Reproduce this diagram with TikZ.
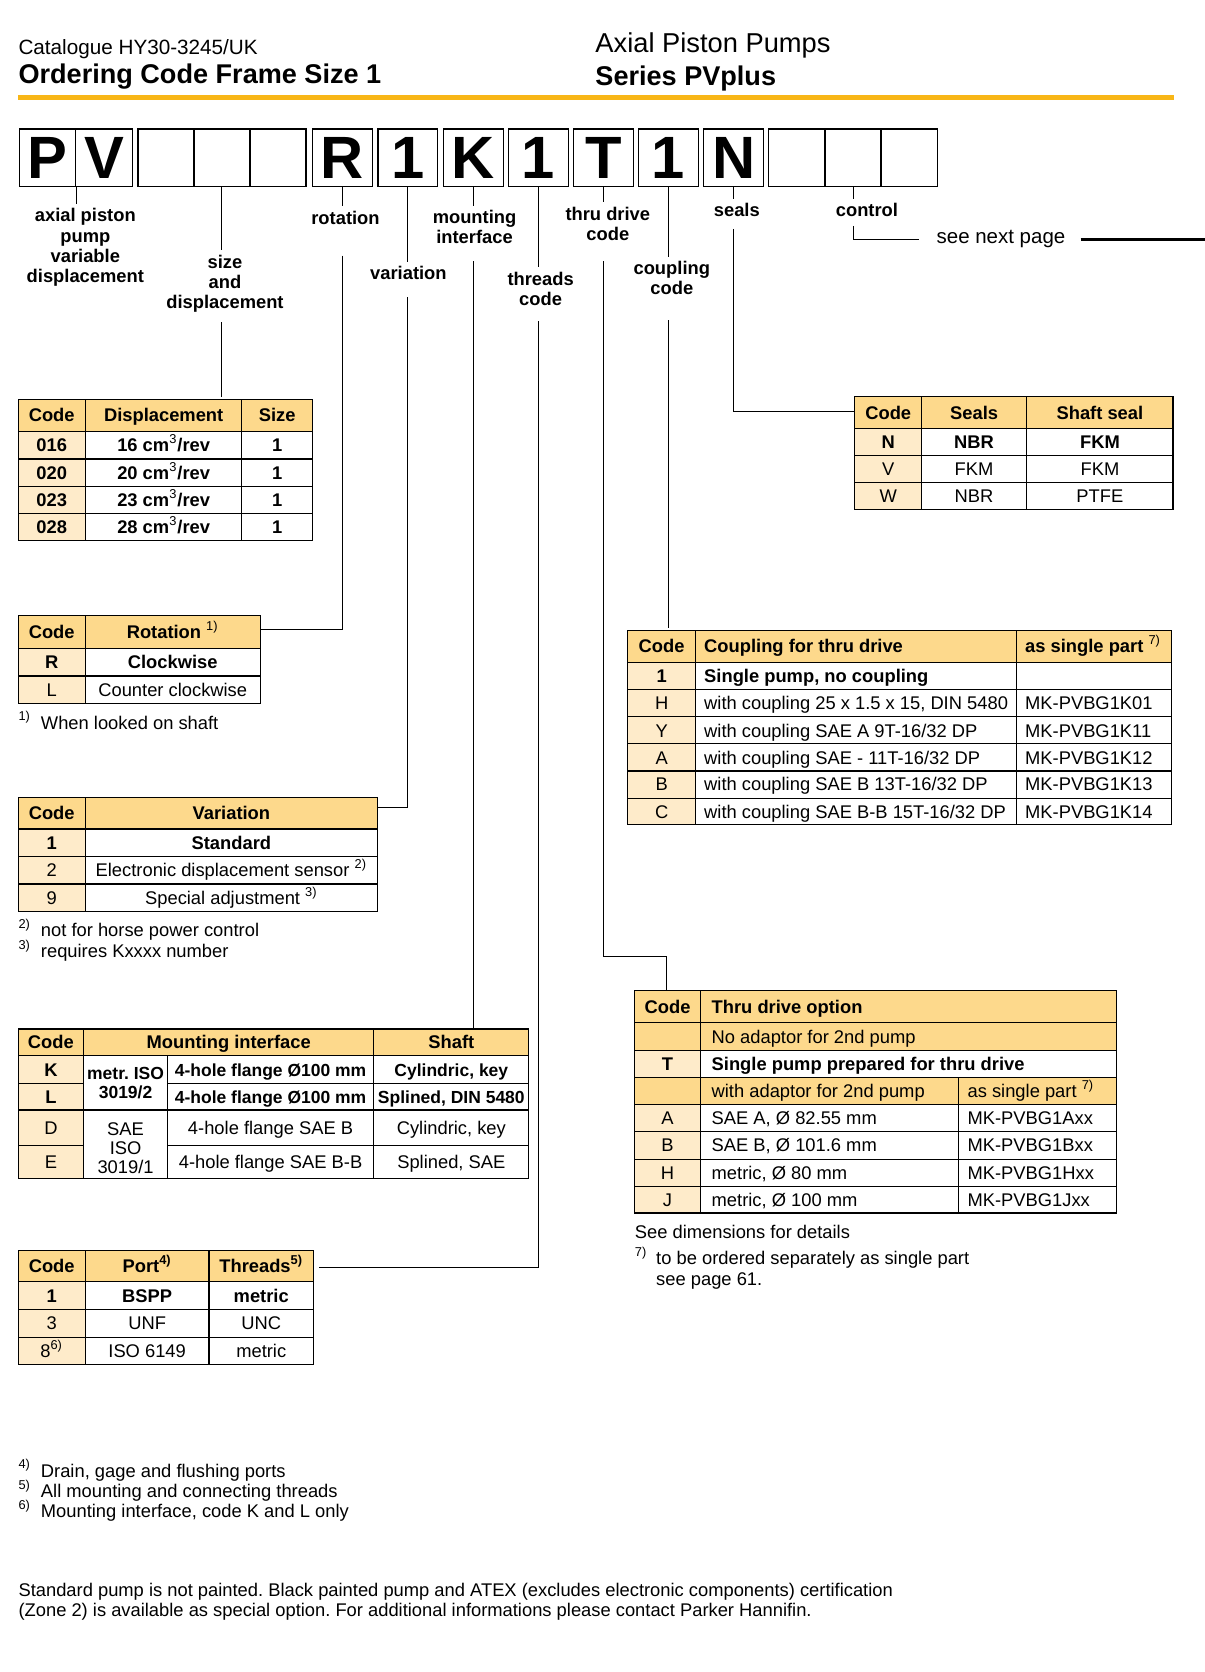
\documentclass[tikz,border=0pt]{standalone}
\usepackage{fontspec}
\setmainfont{Liberation Sans}
\usetikzlibrary{calc}

\definecolor{parkergold}{RGB}{248,182,22}
\definecolor{headfill}{RGB}{253,217,140}
\definecolor{codefill}{RGB}{254,235,202}

\newcommand{\tabfont}{\fontsize{8.6}{10.3}\selectfont}
\newcommand{\fnmark}[1]{\textsuperscript{\normalfont #1)}}
\frenchspacing

\begin{document}
\begin{tikzpicture}[x=0.5pt, y=-0.5pt,
  grid/.style={line width=0.55pt},
  lead/.style={line width=0.45pt},
  cell/.style={inner sep=0pt, text height=6.2pt, text depth=0pt, font=\tabfont},
  bcell/.style={cell, font=\tabfont\bfseries},
  tcell/.style={cell, font=\fontsize{8.2}{10}\selectfont\bfseries},
  lcell/.style={cell, anchor=west},
  blcell/.style={bcell, anchor=west},
  mcell/.style={inner sep=0pt, align=center, font=\fontsize{8.6}{9}\selectfont},
  note/.style={cell, anchor=west},
  codebox/.style={draw, line width=0.6pt, minimum height=27pt, inner sep=0pt,
    font=\fontsize{28}{28}\selectfont\bfseries},
  tag/.style={align=center, inner sep=2pt, font=\fontsize{8.6}{9.5}\selectfont\bfseries}]
\useasboundingbox (0,0) rectangle (1130,1568);

% page head
\node[anchor=west, inner sep=0pt, text height=6.9pt, text depth=0pt,
  font=\fontsize{9.7}{11}\selectfont] (catalogue) at (17,44) {Catalogue HY30-3245/UK};
\node[anchor=west, inner sep=0pt, text height=9.1pt, text depth=0pt,
  font=\fontsize{12.7}{14}\selectfont\bfseries] (heading) at (17,69) {Ordering Code Frame Size 1};
\node[anchor=west, inner sep=0pt, text height=9.1pt, text depth=0pt,
  font=\fontsize{12.8}{14}\selectfont] (product) at (558,40) {Axial Piston Pumps};
\node[anchor=west, inner sep=0pt, text height=9.1pt, text depth=0pt,
  font=\fontsize{12.7}{14}\selectfont\bfseries] (series) at (558,71) {Series PVplus};
\fill[parkergold] (17,89) rectangle (1101,94);

% ordering code
\node[codebox, minimum width=26.5pt] (cP) at (44.5,148) {P};
\node[codebox, minimum width=26.5pt] (cV) at (97.5,148) {V};
\foreach \n/\x in {S1/156,S2/208,S3/260.5}
  \node[codebox, minimum width=26.5pt] (c\n) at (\x,148) {};
\foreach \n/\x/\t in {R/321/R,Var/382.5/1,K/444/K,Thr/505/1,T/566/T,Cpl/627/1,N/688/N}
  \node[codebox, minimum width=28pt] (c\n) at (\x,148) {\t};
\foreach \n/\x in {C1/747.5,C2/800,C3/852.5}
  \node[codebox, minimum width=26.5pt] (c\n) at (\x,148) {};

\node[tag] (lAxial) at (80,232) {axial piston\\pump\\variable\\displacement};
\node[tag] (lSize) at (211,266) {size\\and\\displacement};
\node[tag] (lRot) at (324,204) {rotation};
\node[tag] (lVar) at (383,256) {variation};
\node[tag] (lMount) at (445,213) {mounting\\interface};
\node[tag] (lThr) at (507,271) {threads\\code};
\node[tag] (lThru) at (570,210) {thru drive\\code};
\node[tag] (lCpl) at (630,261) {coupling\\code};
\node[tag] (lSeal) at (691,197) {seals};
\node[tag] (lCtrl) at (813,197) {control};
\node[anchor=west, inner sep=2pt, font=\fontsize{9.6}{11}\selectfont] (lNext) at (874,224.5) {see next page};

\coordinate (dispTop) at (208,372);
\coordinate (rotEnd) at (244.5,590);
\coordinate (varEnd) at (354,757);
\coordinate (mountTop) at (444,965);
\coordinate (thrEnd) at (299,1189);
\coordinate (thruBend) at (625,897);
\coordinate (thruTop) at (625,929);
\coordinate (cplTop) at (627,589);
\coordinate (sealEnd) at (801.5,386);
\coordinate (nextEnd) at (1130,224.5);

\draw[lead] (cP.south east) -- (cP.south east |- lAxial.north);
\draw[lead] (cS2.south) -- (cS2.south |- lSize.north);
\draw[lead] (cS2.south |- lSize.south) ++(0,5) -- (dispTop);
\draw[lead] (cR.south) -- (cR.south |- lRot.north);
\draw[lead] (cR.south |- lRot.south) ++(0,25) |- (rotEnd);
\draw[lead] (cVar.south) -- (cVar.south |- lVar.north);
\draw[lead] (cVar.south |- lVar.south) ++(0,12) |- (varEnd);
\draw[lead] (cK.south) -- (cK.south |- lMount.north);
\draw[lead] (cK.south |- lMount.south) ++(0,12) -- (mountTop);
\draw[lead] (cThr.south) -- (cThr.south |- lThr.north);
\draw[lead] (cThr.south |- lThr.south) ++(0,10) |- (thrEnd);
\draw[lead] (cT.south) -- (cT.south |- lThru.north);
\draw[lead] (cT.south |- lThru.south) ++(0,15) |- (thruBend) -- (thruTop);
\draw[lead] (cCpl.south) -- (cCpl.south |- lCpl.north);
\draw[lead] (cCpl.south |- lCpl.south) ++(0,19) -- (cplTop);
\draw[lead] (cN.south) -- (cN.south |- lSeal.north);
\draw[lead] (cN.south |- lSeal.south) ++(0,7) |- (sealEnd);
\draw[lead] (cC2.south) -- (cC2.south |- lCtrl.north);
\draw[lead] (cC2.south |- lCtrl.south) ++(0,4) |- ([xshift=-6pt]lNext.west);
\draw[line width=1.6pt] ([xshift=5pt]lNext.east) -- (lNext.east -| nextEnd);

% size and displacement
\fill[headfill] (17,374.5) rectangle (293,404.5);
\fill[codefill] (17,404.5) rectangle (80,506.5);
\draw[grid] (17,374.5) rectangle (293,506.5);
\foreach \y in {404.5,430.5,456.5,481.5} \draw[grid] (17,\y) -- (293,\y);
\foreach \x in {80,226.5} \draw[grid] (\x,374.5) -- (\x,506.5);
\node[bcell] (dH1) at (48.5,389.5) {Code};
\node[bcell] (dH2) at (153.5,389.5) {Displacement};
\node[bcell] (dH3) at (260,389.5) {Size};
\foreach \cd/\v/\y in {016/16/417.5,020/20/443.5,023/23/469,028/28/494}{
  \node[bcell] (dC\cd) at (48.5,\y) {\cd};
  \node[bcell] (dD\cd) at (153.5,\y) {\v~cm\textsuperscript{\normalfont 3}/rev};
  \node[bcell] (dS\cd) at (260,\y) {1};
}

% seals
\fill[headfill] (801.5,372) rectangle (1100,401.5);
\fill[codefill] (801.5,401.5) rectangle (864.5,478);
\draw[grid] (801.5,372) rectangle (1100,478);
\foreach \y in {401.5,427.5,452.5} \draw[grid] (801.5,\y) -- (1100,\y);
\foreach \x in {864.5,963} \draw[grid] (\x,372) -- (\x,478);
\node[bcell] (sH1) at (833,387) {Code};
\node[bcell] (sH2) at (913.5,387) {Seals};
\node[bcell] (sH3) at (1031.5,387) {Shaft seal};
\node[bcell] (sCN) at (833,414.5) {N};
\node[bcell] (sSN) at (913.5,414.5) {NBR};
\node[bcell] (sTN) at (1031.5,414.5) {FKM};
\foreach \cd/\s/\t/\y in {V/FKM/FKM/440,W/NBR/PTFE/465.5}{
  \node[cell] (sC\cd) at (833,\y) {\cd};
  \node[cell] (sS\cd) at (913.5,\y) {\s};
  \node[cell] (sT\cd) at (1031.5,\y) {\t};
}

% rotation
\fill[headfill] (17,577.5) rectangle (244.5,608.5);
\fill[codefill] (17,608.5) rectangle (80,659.5);
\draw[grid] (17,577.5) rectangle (244.5,659.5);
\foreach \y in {608.5,634} \draw[grid] (17,\y) -- (244.5,\y);
\draw[grid] (80,577.5) -- (80,659.5);
\node[bcell] (rH1) at (48.5,593) {Code};
\node[bcell] (rH2) at (162,593) {Rotation \fnmark{1}};
\node[bcell] (rCR) at (48.5,621) {R};
\node[bcell] (rTR) at (162,621) {Clockwise};
\node[cell] (rCL) at (48.5,647) {L};
\node[cell] (rTL) at (162,647) {Counter clockwise};
\node[note] (fn1) at (17,677.5) {\makebox[10.5pt][l]{\fnmark{1}}When looked on shaft};

% variation
\fill[headfill] (17,747.5) rectangle (354,777.5);
\fill[codefill] (17,777.5) rectangle (80,855);
\draw[grid] (17,747.5) rectangle (354,855);
\foreach \y in {777.5,803.5,829} \draw[grid] (17,\y) -- (354,\y);
\draw[grid] (80,747.5) -- (80,855);
\node[bcell] (vH1) at (48.5,762.5) {Code};
\node[bcell] (vH2) at (217,762.5) {Variation};
\node[bcell] (vC1) at (48.5,790.5) {1};
\node[bcell] (vT1) at (217,790.5) {Standard};
\node[cell] (vC2) at (48.5,816) {2};
\node[cell] (vT2) at (217,816) {Electronic displacement sensor \fnmark{2}};
\node[cell] (vC9) at (48.5,842) {9};
\node[cell] (vT9) at (217,842) {Special adjustment \fnmark{3}};
\node[note] (fn2) at (17,872) {\makebox[10.5pt][l]{\fnmark{2}}not for horse power control};
\node[note] (fn3) at (17,891.5) {\makebox[10.5pt][l]{\fnmark{3}}requires Kxxxx number};

% coupling
\fill[headfill] (588.5,591) rectangle (1099,621);
\fill[codefill] (588.5,621) rectangle (652.5,773.5);
\draw[grid] (588.5,591) rectangle (1099,773.5);
\foreach \y in {621,646.5,672,697.5,723,748.5} \draw[grid] (588.5,\y) -- (1099,\y);
\foreach \x in {652.5,953} \draw[grid] (\x,591) -- (\x,773.5);
\node[bcell] (kH1) at (620.5,606) {Code};
\node[blcell] (kH2) at (660,606) {Coupling for thru drive};
\node[blcell] (kH3) at (961,606) {as single part \fnmark{7}};
\node[bcell] (kC1) at (620.5,634) {1};
\node[blcell] (kT1) at (660,634) {Single pump, no coupling};
\foreach \cd/\t/\p/\y in {H/{with coupling 25 x 1.5 x 15, DIN 5480}/MK-PVBG1K01/659.5,
    Y/{with coupling SAE A 9T-16/32 DP}/MK-PVBG1K11/685,
    A/{with coupling SAE - 11T-16/32 DP}/MK-PVBG1K12/710.5,
    B/{with coupling SAE B 13T-16/32 DP}/MK-PVBG1K13/735.5,
    C/{with coupling SAE B-B 15T-16/32 DP}/MK-PVBG1K14/761}{
  \node[cell] (kC\cd) at (620.5,\y) {\cd};
  \node[lcell] (kT\cd) at (660,\y) {\t};
  \node[lcell] (kP\cd) at (961,\y) {\p};
}

% thru drive
\fill[headfill] (595,929) rectangle (1047,985);
\fill[headfill] (595,1010.5) rectangle (1047,1036);
\fill[codefill] (595,985) rectangle (657,1010.5);
\fill[codefill] (595,1036) rectangle (657,1137.5);
\draw[grid] (595,929) rectangle (1047,1137.5);
\foreach \y in {959,985,1010.5,1036,1061,1087,1112.5} \draw[grid] (595,\y) -- (1047,\y);
\draw[grid] (657,929) -- (657,1137.5);
\draw[grid] (899,1010.5) -- (899,1137.5);
\node[bcell] (tH1) at (626,944) {Code};
\node[blcell] (tH2) at (667,944) {Thru drive option};
\node[lcell] (tNo) at (667,972) {No adaptor for 2nd pump};
\node[bcell] (tCT) at (626,998) {T};
\node[blcell] (tTT) at (667,998) {Single pump prepared for thru drive};
\node[lcell] (tW2) at (667,1023) {with adaptor for 2nd pump};
\node[lcell] (tW3) at (907,1023) {as single part \fnmark{7}};
\foreach \cd/\t/\p/\y in {A/{SAE A, Ø 82.55 mm}/MK-PVBG1Axx/1048.5,
    B/{SAE B, Ø 101.6 mm}/MK-PVBG1Bxx/1074,
    H/{metric, Ø 80 mm}/MK-PVBG1Hxx/1099.5,
    J/{metric, Ø 100 mm}/MK-PVBG1Jxx/1125}{
  \node[cell] (tC\cd) at (626,\y) {\cd};
  \node[lcell] (tT\cd) at (667,\y) {\t};
  \node[lcell] (tP\cd) at (907,\y) {\p};
}
\node[note] (tDim) at (595,1155) {See dimensions for details};
\node[note] (fn7) at (595,1180) {\makebox[10pt][l]{\fnmark{7}}to be ordered separately as single part};
\node[note] (fn7b) at (615,1199.5) {see page 61.};

% mounting interface
\fill[headfill] (17,965) rectangle (496,990);
\fill[codefill] (17,990) rectangle (78.5,1105);
\draw[grid] (17,965) rectangle (496,1105);
\draw[grid] (17,990) -- (496,990);
\draw[grid] (17,1041) -- (496,1041);
\foreach \y in {1016,1074} {
  \draw[grid] (17,\y) -- (78.5,\y);
  \draw[grid] (157,\y) -- (496,\y);
}
\draw[grid] (78.5,965) -- (78.5,1105);
\draw[grid] (157,990) -- (157,1105);
\draw[grid] (350.5,965) -- (350.5,1105);
\node[bcell] (mH1) at (47.75,977.5) {Code};
\node[bcell] (mH2) at (214.5,977.5) {Mounting interface};
\node[bcell] (mH3) at (423.25,977.5) {Shaft};
\node[mcell, font=\fontsize{8.2}{9}\selectfont\bfseries] (mISO2) at (117.75,1016) {metr. ISO\\3019/2};
\node[mcell] (mISO1) at (117.75,1076.5) {SAE\\ISO\\3019/1};
\node[bcell] (mCK) at (47.75,1003) {K};
\node[tcell] (mFK) at (253.75,1003) {4-hole flange Ø100 mm};
\node[tcell] (mSK) at (423.25,1003) {Cylindric, key};
\node[bcell] (mCL) at (47.75,1028.5) {L};
\node[tcell] (mFL) at (253.75,1028.5) {4-hole flange Ø100 mm};
\node[tcell] (mSL) at (423.25,1028.5) {Splined, DIN 5480};
\node[cell] (mCD) at (47.75,1057.5) {D};
\node[cell] (mFD) at (253.75,1057.5) {4-hole flange SAE B};
\node[cell] (mSD) at (423.25,1057.5) {Cylindric, key};
\node[cell] (mCE) at (47.75,1089.5) {E};
\node[cell] (mFE) at (253.75,1089.5) {4-hole flange SAE B-B};
\node[cell] (mSE) at (423.25,1089.5) {Splined, SAE};

% port and threads
\fill[headfill] (17,1173) rectangle (294,1202);
\fill[codefill] (17,1202) rectangle (80,1279.5);
\draw[grid] (17,1173) rectangle (294,1279.5);
\foreach \y in {1202,1228,1254} \draw[grid] (17,\y) -- (294,\y);
\foreach \x in {80,196} \draw[grid] (\x,1173) -- (\x,1279.5);
\node[bcell] (pH1) at (48.5,1187.5) {Code};
\node[bcell] (pH2) at (138,1187.5) {Port\textsuperscript{4)}};
\node[bcell] (pH3) at (245,1187.5) {Threads\textsuperscript{5)}};
\node[bcell] (pC1) at (48.5,1215) {1};
\node[bcell] (pP1) at (138,1215) {BSPP};
\node[bcell] (pT1) at (245,1215) {metric};
\node[cell] (pC3) at (48.5,1241) {3};
\node[cell] (pP3) at (138,1241) {UNF};
\node[cell] (pT3) at (245,1241) {UNC};
\node[cell] (pC8) at (48.5,1266.75) {8\textsuperscript{6)}};
\node[cell] (pP8) at (138,1266.75) {ISO 6149};
\node[cell] (pT8) at (245,1266.75) {metric};

% footnotes
\node[note] (fn4) at (17,1379) {\makebox[10.5pt][l]{\fnmark{4}}Drain, gage and flushing ports};
\node[note] (fn5) at (17,1398) {\makebox[10.5pt][l]{\fnmark{5}}All mounting and connecting threads};
\node[note] (fn6) at (17,1417) {\makebox[10.5pt][l]{\fnmark{6}}Mounting interface, code K and L only};
\node[note] (paint1) at (17,1491) {Standard pump is not painted. Black painted pump and ATEX (excludes electronic components) certification};
\node[note] (paint2) at (17,1510) {(Zone 2) is available as special option. For additional informations please contact Parker Hannifin.};

\end{tikzpicture}
\end{document}
